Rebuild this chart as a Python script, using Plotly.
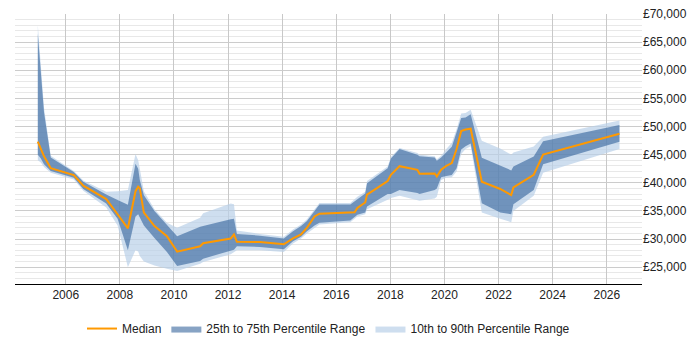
import plotly.graph_objects as go

dates = ["2004-12-20", "2005-01-30", "2005-03-14", "2005-06-13", "2006-04-20", "2006-08-26",
         "2007-07-02", "2007-12-02", "2008-04-19", "2008-07-31", "2008-09-05", "2008-09-27",
         "2008-11-21", "2009-04-13", "2009-09-28", "2010-02-13", "2010-12-21", "2011-01-30",
         "2012-02-06", "2012-03-21", "2012-04-30", "2013-03-07", "2014-01-23", "2014-05-27",
         "2014-09-13", "2014-12-02", "2015-03-14", "2015-05-19", "2016-07-09", "2016-09-05",
         "2016-10-12", "2017-01-26", "2017-02-20", "2017-11-25", "2018-01-08", "2018-05-05",
         "2019-01-01", "2019-01-30", "2019-08-22", "2019-09-20", "2019-11-17", "2020-01-26",
         "2020-04-09", "2020-06-13", "2020-08-14", "2020-10-12", "2020-12-20", "2021-05-19",
         "2022-01-23", "2022-06-21", "2022-07-20", "2023-04-20", "2023-08-25", "2026-06-21"]

p10 = [44000, 43600, 42800, 41800, 40600, 38600, 35600, 32400, 25000, 28000, 27800, 27000,
       26000, 25300, 24700, 24300, 25600, 25900, 27300, 27600, 28000, 28000, 27700, 29200,
       30100, 31000, 32000, 32600, 33000, 33700, 34000, 34400, 35300, 37000, 37300, 37700,
       36800, 36800, 37200, 37500, 40500, 40900, 41000, 42000, 45100, 46000, 46500, 34690,
       33580, 33000, 35000, 37700, 41800, 46000]
p25 = [45000, 44300, 43300, 42100, 40870, 38900, 36300, 33600, 28000, 34000, 34400, 33800,
       32400, 30200, 27700, 25200, 26100, 26500, 27900, 28100, 28700, 28600, 28200, 29600,
       30400, 31400, 32400, 32900, 33300, 34000, 34300, 34700, 35800, 38000, 38000, 38700,
       38200, 38000, 38700, 39000, 41000, 41200, 41400, 42600, 45900, 46500, 47000, 36370,
       34690, 34400, 36200, 38700, 43300, 47300]
median = [47300, 46000, 44700, 42600, 41350, 39470, 37100, 34400, 31900, 38500, 39300, 39000,
          34690, 32300, 30480, 27750, 28700, 29250, 30070, 30800, 29500, 29450, 29050, 30100,
          30800, 32000, 34000, 34500, 34700, 34750, 35500, 36500, 37900, 40300, 41400, 42950,
          42300, 41600, 41650, 41100, 42300, 43000, 43500, 46000, 49200, 49450, 49600, 40190,
          38890, 37800, 39180, 41420, 45000, 48700]
p75 = [66500, 59500, 52500, 44500, 41900, 40190, 37900, 36950, 36100, 43400, 42500, 40500,
       37800, 35000, 32600, 30500, 32200, 32300, 33500, 33600, 30900, 30600, 30100, 31400,
       32300, 33200, 35000, 36150, 36150, 36700, 37200, 38100, 39900, 42600, 44300, 46000,
       45000, 44700, 44500, 43900, 44500, 45500, 46400, 49000, 51500, 51600, 52200, 44460,
       43040, 42200, 42900, 44650, 47400, 50250]
p90 = [68000, 60500, 53300, 44800, 42100, 40400, 38400, 38500, 38700, 45100, 44000, 42500,
       38500, 35300, 32900, 32000, 33800, 34600, 36300, 36200, 31500, 30900, 30400, 31700,
       32600, 33500, 35300, 36400, 36400, 37000, 37500, 38400, 40300, 42900, 44600, 46200,
       45300, 45000, 44700, 44200, 44800, 46000, 47100, 49500, 52300, 52400, 53000, 47480,
       46100, 45000, 45400, 46450, 48200, 51050]

tick_years = ["2006", "2008", "2010", "2012", "2014", "2016", "2018", "2020", "2022", "2024", "2026"]

LIGHT = "rgba(185,208,232,0.7)"
DARK = "rgba(29,81,144,0.53)"
ORANGE = "#ff9900"

fig = go.Figure()
fig.add_trace(go.Scatter(x=dates, y=p10, mode="lines", line=dict(width=0, color=LIGHT),
                         showlegend=False, hoverinfo="skip"))
fig.add_trace(go.Scatter(x=dates, y=p90, mode="lines", line=dict(width=0, color=LIGHT),
                         fill="tonexty", fillcolor=LIGHT, name="10th to 90th Percentile Range",
                         legendrank=3))
fig.add_trace(go.Scatter(x=dates, y=p25, mode="lines", line=dict(width=0, color=DARK),
                         showlegend=False, hoverinfo="skip"))
fig.add_trace(go.Scatter(x=dates, y=p75, mode="lines", line=dict(width=0, color=DARK),
                         fill="tonexty", fillcolor=DARK, name="25th to 75th Percentile Range",
                         legendrank=2))
fig.add_trace(go.Scatter(x=dates, y=median, mode="lines", line=dict(width=2, color=ORANGE),
                         name="Median", legendrank=1))

fig.update_layout(
    width=700, height=350,
    margin=dict(l=15, r=58, t=7, b=58),
    paper_bgcolor="white", plot_bgcolor="white",
    font=dict(family="Liberation Sans, Arial, sans-serif", size=12, color="#222"),
    legend=dict(orientation="h", x=0.5, xanchor="center", y=-0.165, yanchor="middle",
                font=dict(size=12), itemclick=False, traceorder="normal"),
    xaxis=dict(
        type="date",
        range=["2004-02-16", "2027-04-21"],
        tickvals=[y + "-01-01" for y in tick_years],
        ticktext=tick_years,
        showgrid=True, gridcolor="#c8c8c8", gridwidth=1,
        showline=True, linecolor="#000", linewidth=1,
        ticks="", zeroline=False,
    ),
    yaxis=dict(
        side="right",
        range=[22000, 70000],
        dtick=5000, tick0=0,
        tickprefix="£", tickformat=",d",
        showgrid=True, gridcolor="#cccccc", gridwidth=1,
        minor=dict(dtick=1000, showgrid=True, gridcolor="#e8e8e8", gridwidth=1),
        showline=False, ticks="", zeroline=False,
    ),
)

fig.write_html("out.html")
